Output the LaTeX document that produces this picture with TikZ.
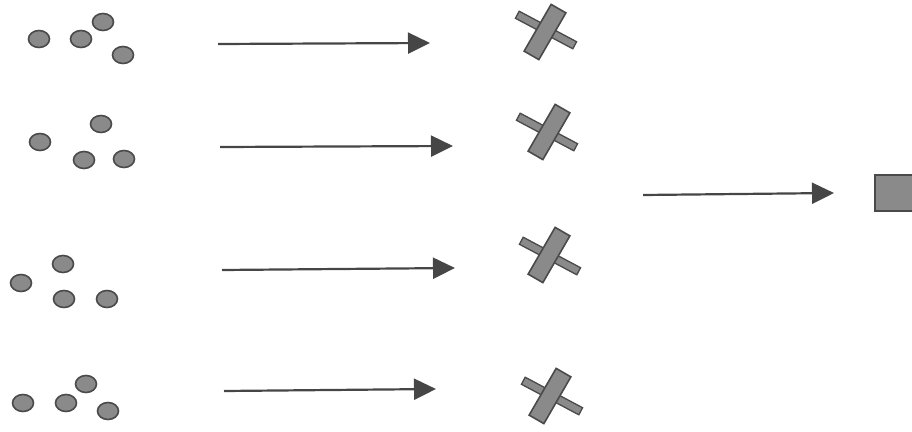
\documentclass[tikz,border=0pt]{standalone}
\usetikzlibrary{arrows.meta,shapes.geometric}
\definecolor{dotfill}{HTML}{8A8A8A}
\definecolor{dotedge}{HTML}{4A4A4A}
\definecolor{arrowc}{HTML}{464646}
\tikzset{
  dotnode/.style={ellipse,draw=dotedge,line width=1.6pt,fill=dotfill,minimum width=21pt,minimum height=17pt,inner sep=0pt},
  thinbar/.style={rectangle,draw=dotedge,line width=1.3pt,fill=dotfill,minimum width=65pt,minimum height=8pt,inner sep=0pt,rotate=-28},
  widebar/.style={rectangle,draw=dotedge,line width=1.6pt,fill=dotfill,minimum width=54pt,minimum height=17pt,inner sep=0pt,rotate=60},
  arr/.style={draw=arrowc,line width=2.2pt,-{Triangle[length=22pt,width=21pt]},arrowc},
  sqbox/.style={rectangle,draw=dotedge,line width=1.6pt,fill=dotfill,minimum width=42pt,minimum height=36pt,inner sep=0pt,anchor=north west}
}
\begin{document}
\begin{tikzpicture}[x=1pt,y=-1pt]
\useasboundingbox (0,0) rectangle (912,431);
% row 1 dots
\node[dotnode] (d11) at (39,39) {};
\node[dotnode] (d12) at (81,39) {};
\node[dotnode] (d13) at (103,22) {};
\node[dotnode] (d14) at (123,55) {};
% row 2 dots
\node[dotnode] (d21) at (40,142) {};
\node[dotnode] (d22) at (101,124) {};
\node[dotnode] (d23) at (84,160) {};
\node[dotnode] (d24) at (124,159) {};
% row 3 dots
\node[dotnode] (d31) at (63,264) {};
\node[dotnode] (d32) at (21,283) {};
\node[dotnode] (d33) at (64,299) {};
\node[dotnode] (d34) at (107,299) {};
% row 4 dots
\node[dotnode] (d41) at (86,384) {};
\node[dotnode] (d42) at (23,403) {};
\node[dotnode] (d43) at (66,403) {};
\node[dotnode] (d44) at (108,411) {};
% crosses
\node[thinbar] (c1t) at (546,30) {};
\node[widebar] (c1w) at (545,32) {};
\node[thinbar] (c2t) at (547,132) {};
\node[widebar] (c2w) at (549,132) {};
\node[thinbar] (c3t) at (550,256) {};
\node[widebar] (c3w) at (549,255) {};
\node[thinbar] (c4t) at (552,396) {};
\node[widebar] (c4w) at (550,396) {};
% square
\node[sqbox] (sq) at (874,174) {};
% arrows
\coordinate (a1s) at (218,44);
\coordinate (a1e) at (430,43);
\coordinate (a2s) at (220,147);
\coordinate (a2e) at (453,146);
\coordinate (a3s) at (222,270);
\coordinate (a3e) at (455,268);
\coordinate (a4s) at (224,391);
\coordinate (a4e) at (436,389);
\coordinate (a5s) at (643,195);
\coordinate (a5e) at (834,193);
\draw[arr] (a1s) -- (a1e);
\draw[arr] (a2s) -- (a2e);
\draw[arr] (a3s) -- (a3e);
\draw[arr] (a4s) -- (a4e);
\draw[arr] (a5s) -- (a5e);
\end{tikzpicture}
\end{document}
